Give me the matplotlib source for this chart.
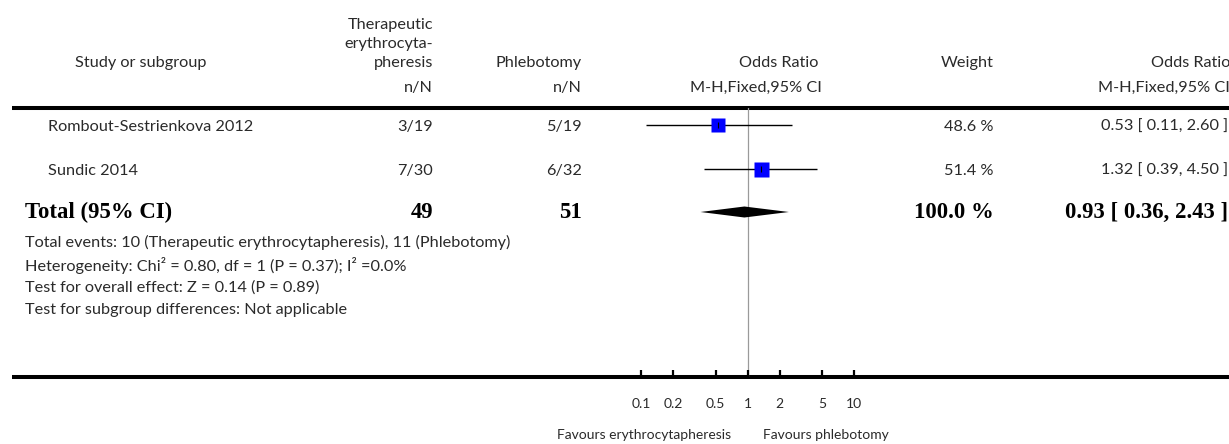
import matplotlib
matplotlib.use('Agg')
import matplotlib.pyplot as plt
from matplotlib.lines import Line2D

plt.rcParams['font.family'] = ['Lato', 'DejaVu Sans']

# data
studies = ['Rombout-Sestrienkova 2012', 'Sundic 2014']
tea_events = [3, 7]
tea_total = [19, 30]
phl_events = [5, 6]
phl_total = [19, 32]
weights = [48.6, 51.4]
or_est = [0.53, 1.32]
or_lo = [0.11, 0.39]
or_hi = [2.60, 4.50]
total_est, total_lo, total_hi = 0.93, 0.36, 2.43
total_weight = 100.0
footer = [
    'Total events: 10 (Therapeutic erythrocytapheresis), 11 (Phlebotomy)',
    'Heterogeneity: Chi² = 0.80, df = 1 (P = 0.37); I² =0.0%',
    'Test for overall effect: Z = 0.14 (P = 0.89)',
    'Test for subgroup differences: Not applicable',
]
ticks = [0.1, 0.2, 0.5, 1, 2, 5, 10]
tick_labels = ['0.1', '0.2', '0.5', '1', '2', '5', '10']

W, H = 1229, 444
fig = plt.figure(figsize=(W / 100, H / 100), dpi=100)
bg = fig.add_axes([0, 0, 1, 1])
bg.set_xlim(0, W)
bg.set_ylim(H, 0)
bg.axis('off')

txt = '#2a2a2a'
fs = 11.7
bold = dict(family=['Liberation Serif', 'DejaVu Serif'], weight='bold', fontsize=16.4, color='black')

# header
bg.text(141, 63, 'Study or subgroup', ha='center', va='center', fontsize=fs, color=txt)
for yy, s in zip([25, 44, 63], ['Therapeutic', 'erythrocyta-', 'pheresis']):
    bg.text(433, yy, s, ha='right', va='center', fontsize=fs, color=txt)
bg.text(433, 88, 'n/N', ha='right', va='center', fontsize=fs, color=txt)
bg.text(582, 63, 'Phlebotomy', ha='right', va='center', fontsize=fs, color=txt)
bg.text(582, 88, 'n/N', ha='right', va='center', fontsize=fs, color=txt)
bg.text(818, 63, 'Odds Ratio', ha='right', va='center', fontsize=fs, color=txt)
bg.text(822, 88, 'M-H,Fixed,95% CI', ha='right', va='center', fontsize=fs, color=txt)
bg.text(994, 63, 'Weight', ha='right', va='center', fontsize=fs, color=txt)
bg.text(1230, 63, 'Odds Ratio', ha='right', va='center', fontsize=fs, color=txt)
bg.text(1230, 88, 'M-H,Fixed,95% CI', ha='right', va='center', fontsize=fs, color=txt)

# rule lines
for yy in [108, 377]:
    bg.add_line(Line2D([12, W], [yy, yy], color='black', lw=2.9, solid_capstyle='butt'))

row_y = [125, 169]
total_y = 212

for i, name in enumerate(studies):
    y = row_y[i] + 2
    bg.text(48, y, name, ha='left', va='center', fontsize=fs, color=txt)
    bg.text(433, y, f'{tea_events[i]}/{tea_total[i]}', ha='right', va='center', fontsize=fs, color=txt)
    bg.text(582, y, f'{phl_events[i]}/{phl_total[i]}', ha='right', va='center', fontsize=fs, color=txt)
    bg.text(994, y, f'{weights[i]:.1f} %', ha='right', va='center', fontsize=fs, color=txt)
    bg.text(1228, y, f'{or_est[i]:.2f} [ {or_lo[i]:.2f}, {or_hi[i]:.2f} ]', ha='right', va='center',
            fontsize=fs, color=txt)

bg.text(25, total_y, 'Total (95% CI)', ha='left', va='center', **bold)
bg.text(433, total_y, f'{sum(tea_total)}', ha='right', va='center', **bold)
bg.text(582, total_y, f'{sum(phl_total)}', ha='right', va='center', **bold)
bg.text(994, total_y, f'{total_weight:.1f} %', ha='right', va='center', **bold)
bg.text(1228, total_y, f'{total_est:.2f} [ {total_lo:.2f}, {total_hi:.2f} ]', ha='right', va='center', **bold)

for yy, s in zip([242, 265, 288, 310], footer):
    bg.text(25, yy, s, ha='left', va='center', fontsize=fs, color=txt)

bg.text(731, 435, 'Favours erythrocytapheresis', ha='right', va='center', fontsize=10, color=txt)
bg.text(763, 435, 'Favours phlebotomy', ha='left', va='center', fontsize=10, color=txt)

# forest plot
x0, x1 = 534.5, 961.0
ax = fig.add_axes([x0 / W, (H - 377) / H, (x1 - x0) / W, (377 - 108) / H])
ax.set_xscale('log')
ax.set_xlim(0.01, 100)
ax.set_ylim(377, 108)
ax.patch.set_alpha(0)
for sp in ax.spines.values():
    sp.set_visible(False)
ax.set_yticks([])
ax.set_xticks(ticks)
ax.set_xticklabels(tick_labels)
ax.minorticks_off()
ax.tick_params(axis='x', direction='in', length=5, width=1.6, color='black', pad=15,
               labelsize=10, labelcolor=txt)

ax.axvline(1, color='#9a9a9a', lw=0.9, zorder=1)
for i in range(len(studies)):
    y = row_y[i]
    ax.hlines(y, or_lo[i], or_hi[i], color='black', lw=1.0, zorder=2)
    ax.plot(or_est[i], y, marker='s', ms=10.8 * (weights[i] / max(weights)) ** 0.5,
            color='#0000ff', mec='none', zorder=3)
    ax.plot(or_est[i], y, marker='|', ms=4, mew=0.8, color='black', zorder=4)

ax.fill([total_lo, total_est, total_hi, total_est],
        [total_y, total_y - 5.5, total_y, total_y + 5.5], color='black', lw=0, zorder=3)

fig.savefig('out.png', dpi=100)
